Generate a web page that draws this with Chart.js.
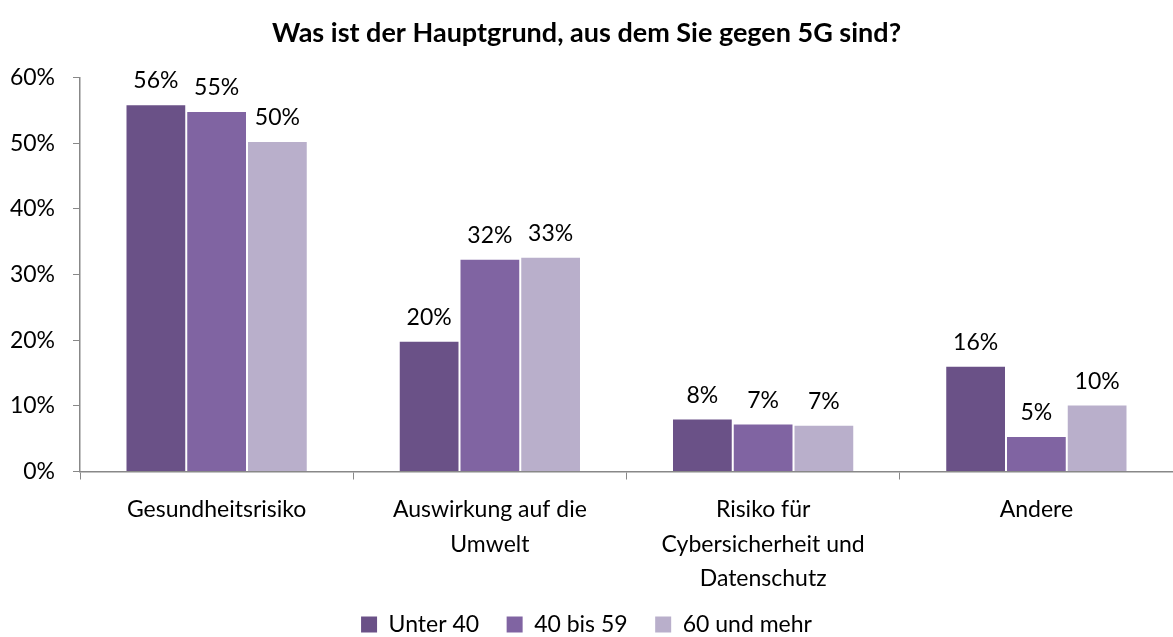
<!DOCTYPE html>
<html>
<head>
<meta charset="utf-8">
<script src="https://cdn.jsdelivr.net/npm/chart.js@4"></script>
<style>
  html, body { margin: 0; padding: 0; background: #fff; }
  #wrap { width: 1173px; height: 637px; }
</style>
</head>
<body>
<div id="wrap"><canvas id="chart"></canvas></div>
<script>
var categories = [
    "Gesundheitsrisiko",
    ["Auswirkung auf die", "Umwelt"],
    ["Risiko für", "Cybersicherheit und", "Datenschutz"],
    "Andere"
];
var under40 = [55.9, 19.9, 8.05, 16.1];
var from40to59 = [54.9, 32.4, 7.3, 5.4];
var over60 = [50.3, 32.7, 7.1, 10.2];
var yTicks = [0, 10, 20, 30, 40, 50, 60];

var FONT = "Lato, 'Noto Sans', sans-serif";
var GAP = '\u00a0\u00a0\u00a0\u00a0';

// draws the % label above each bar
var barLabels = {
    id: 'barLabels',
    afterDatasetsDraw: function(chart) {
        var ctx = chart.ctx;
        ctx.save();
        ctx.font = '23px ' + FONT;
        ctx.fillStyle = '#000';
        ctx.textAlign = 'center';
        ctx.textBaseline = 'alphabetic';
        chart.data.datasets.forEach(function(ds, i) {
            var meta = chart.getDatasetMeta(i);
            meta.data.forEach(function(bar, j) {
                ctx.fillText(Math.round(ds.data[j]) + '%', bar.x, bar.y - 16);
            });
        });
        ctx.restore();
    }
};

var ctx = document.getElementById("chart");
var chart = new Chart(ctx, {
    type: 'bar',
    plugins: [barLabels],
    data: {
        labels: categories,
        datasets: [
            { label: 'Unter 40', data: under40, backgroundColor: '#6A5187', borderColor: 'rgba(255,255,255,0.5)', borderWidth: 1 },
            { label: '40 bis 59', data: from40to59, backgroundColor: '#8064A2', borderColor: 'rgba(255,255,255,0.5)', borderWidth: 1 },
            { label: '60 und mehr', data: over60, backgroundColor: '#B9AFCB', borderColor: 'rgba(255,255,255,0.5)', borderWidth: 1 }
        ]
    },
    options: {
        responsive: true,
        maintainAspectRatio: false,
        animation: false,
        datasets: { bar: { categoryPercentage: 0.667, barPercentage: 1.0 } },
        layout: { padding: { left: 0, right: 0, top: 0, bottom: -9 } },
        plugins: {
            title: {
                display: true,
                text: 'Was ist der Hauptgrund, aus dem Sie gegen 5G sind?',
                color: '#000',
                font: { family: FONT, size: 27, weight: 'bold' },
                padding: { top: 17, bottom: 28 }
            },
            legend: {
                position: 'bottom',
                labels: {
                    color: '#000',
                    font: { family: FONT, size: 23 },
                    boxWidth: 16,
                    boxHeight: 16,
                    padding: 4,
                    generateLabels: function(chart) {
                        var items = Chart.defaults.plugins.legend.labels.generateLabels(chart);
                        items.forEach(function(it, i) {
                            it.lineWidth = 0;
                            if (i < items.length - 1) it.text = it.text + GAP;
                        });
                        return items;
                    }
                }
            },
            tooltip: { enabled: false }
        },
        scales: {
            x: {
                offset: true,
                grid: { offset: true, drawOnChartArea: false, drawTicks: true, tickLength: 8, color: '#888' },
                border: { color: '#888', width: 1.5 },
                ticks: { color: '#000', font: { family: FONT, size: 23, lineHeight: 1.5 }, padding: 13, maxRotation: 0 }
            },
            y: {
                min: 0,
                max: 60,
                afterBuildTicks: function(scale) {
                    scale.ticks = yTicks.map(function(v) { return { value: v }; });
                },
                afterFit: function(scale) { scale.width = 80; },
                grid: { drawOnChartArea: false, drawTicks: true, tickLength: 7, color: '#888' },
                border: { color: '#888', width: 1.5 },
                ticks: {
                    color: '#000',
                    font: { family: FONT, size: 23 },
                    padding: 18,
                    callback: function(v) { return v + '%'; }
                }
            }
        }
    }
});
</script>
</body>
</html>
